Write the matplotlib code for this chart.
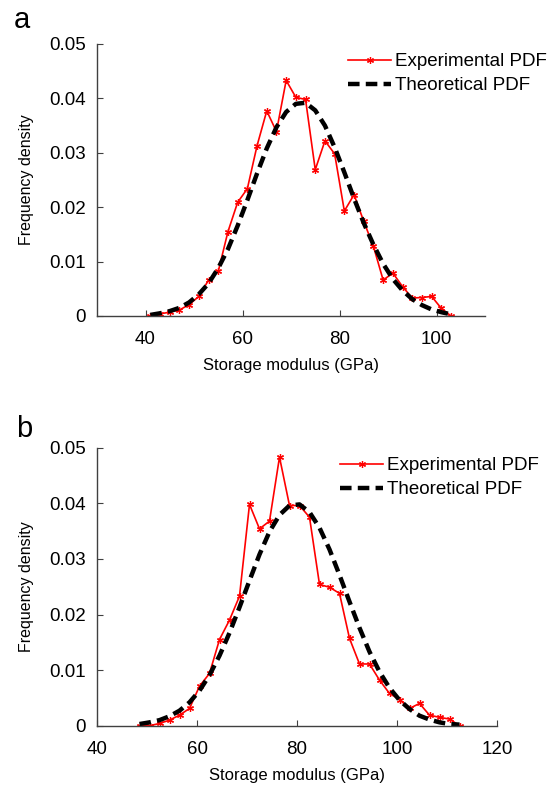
import matplotlib
matplotlib.use("Agg")
import matplotlib.pyplot as plt

plt.rcParams['font.family'] = ['Liberation Sans', 'DejaVu Sans']

# ---------------- data: panel a ----------------
xa = [41, 43, 45, 47, 49, 51, 53, 55, 57, 59, 61, 63, 65, 67, 69, 71,
      73, 75, 77, 79, 81, 83, 85, 87, 89, 91, 93, 95, 97, 99, 101, 103]
exp_a = [0.0, 0.0004, 0.0007, 0.0011, 0.0021, 0.0036, 0.0066, 0.0082,
         0.0155, 0.0209, 0.0234, 0.0313, 0.0377, 0.0339, 0.0433, 0.0402,
         0.0398, 0.0269, 0.0322, 0.0298, 0.0193, 0.0223, 0.0174, 0.0128,
         0.0066, 0.0079, 0.0054, 0.0033, 0.0034, 0.0036, 0.0014, 0.0]
theo_a = [0.0002, 0.0005, 0.0009, 0.0015, 0.0025, 0.0040, 0.0060, 0.0088,
          0.0123, 0.0166, 0.0213, 0.0262, 0.0308, 0.0347, 0.0375, 0.0390,
          0.0392, 0.0378, 0.0350, 0.0310, 0.0264, 0.0216, 0.0171, 0.0131,
          0.0096, 0.0068, 0.0047, 0.0031, 0.0020, 0.0012, 0.0007, 0.0003]

# ---------------- data: panel b ----------------
xb = [48.5, 50.5, 52.5, 54.5, 56.5, 58.5, 60.5, 62.5, 64.5, 66.5, 68.5,
      70.5, 72.5, 74.5, 76.5, 78.5, 80.5, 82.5, 84.5, 86.5, 88.5, 90.5,
      92.5, 94.5, 96.5, 98.5, 100.5, 102.5, 104.5, 106.5, 108.5, 110.5, 112.5]
exp_b = [0.0, 0.0, 0.0004, 0.0010, 0.0019, 0.0031, 0.0071, 0.0094, 0.0155,
         0.0190, 0.0233, 0.0398, 0.0354, 0.0368, 0.0483, 0.0396, 0.0396,
         0.0375, 0.0254, 0.0249, 0.0238, 0.0157, 0.0111, 0.0111, 0.0082,
         0.0058, 0.0047, 0.0031, 0.0040, 0.0019, 0.0015, 0.0012, 0.0]
theo_b = [0.0003, 0.0006, 0.0010, 0.0017, 0.0027, 0.0042, 0.0063, 0.0091,
          0.0126, 0.0167, 0.0213, 0.0261, 0.0308, 0.0349, 0.0379, 0.0396,
          0.0398, 0.0384, 0.0356, 0.0317, 0.0271, 0.0223, 0.0176, 0.0133,
          0.0097, 0.0068, 0.0046, 0.0030, 0.0018, 0.0011, 0.0006, 0.0003, 0.0002]

yticks = [0, 0.01, 0.02, 0.03, 0.04, 0.05]
ytick_labels = ['0', '0.01', '0.02', '0.03', '0.04', '0.05']
xticks_a = [40, 60, 80, 100]
xticks_b = [40, 60, 80, 100, 120]
labels = ['Experimental PDF', 'Theoretical PDF']
xlabel = 'Storage modulus (GPa)'
ylabel = 'Frequency density'

W, H = 551, 787
fig = plt.figure(figsize=(W / 100, H / 100), dpi=100)

spine_c = '#404040'
fs_tick = 13.5
fs_leg = 13.5
fs_xlab = 12
fs_ylab = 11.5

def make_panel(rect, x, e, t, xlim, xticks, leg_anchor, letter, letter_pos):
    ax = fig.add_axes(rect)
    l1, = ax.plot(x, e, color='red', lw=1.2, marker=(6, 2, 0), ms=5, mew=0.9)
    l2, = ax.plot(x, t, color='black', lw=3.2, ls=(0, (2.6, 1.4)))
    ax.set_xlim(*xlim)
    ax.set_ylim(0, 0.05)
    ax.set_xticks(xticks)
    ax.set_yticks(yticks)
    ax.set_yticklabels(ytick_labels)
    for s in ['top', 'right']:
        ax.spines[s].set_visible(False)
    for s in ['left', 'bottom']:
        ax.spines[s].set_color(spine_c)
        ax.spines[s].set_linewidth(1.0)
    ax.tick_params(direction='in', length=4, width=0.8, color=spine_c,
                   labelsize=fs_tick)
    ax.tick_params(axis='x', pad=11)
    ax.tick_params(axis='y', pad=8)
    ax.set_xlabel(xlabel, fontsize=fs_xlab, labelpad=7)
    ax.set_ylabel(ylabel, fontsize=fs_ylab, labelpad=11)
    ax.legend([l1, l2], labels, loc='upper left', frameon=False, fontsize=fs_leg,
              bbox_to_anchor=leg_anchor, bbox_transform=fig.transFigure,
              borderpad=0, borderaxespad=0, handlelength=2.3,
              handletextpad=0.2, labelspacing=0.38)
    fig.text(letter_pos[0], letter_pos[1], letter, fontsize=21,
             ha='left', va='baseline')
    return ax

make_panel([97 / W, 1 - 316 / H, 388 / W, 272 / H], xa, exp_a, theo_a,
           (30, 110), xticks_a, (348 / W, 1 - 53 / H), 'a',
           (14 / W, 1 - 28 / H))
make_panel([97 / W, 1 - 725.7 / H, 400 / W, 278 / H], xb, exp_b, theo_b,
           (40, 120), xticks_b, (340 / W, 1 - 457 / H), 'b',
           (16 / W, 1 - 437 / H))

fig.savefig('out.png', dpi=100)
